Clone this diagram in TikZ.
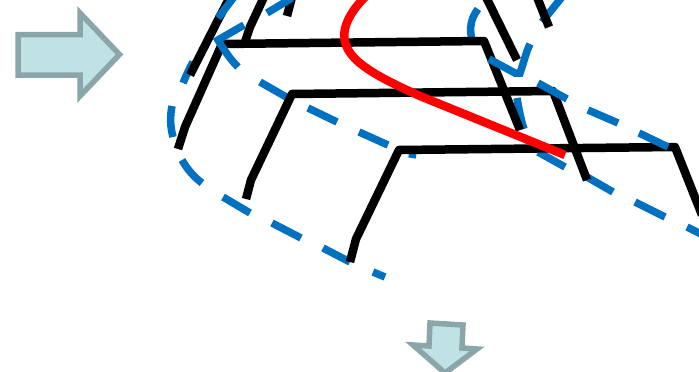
\documentclass[tikz,border=0pt]{standalone}
\definecolor{arrowfill}{HTML}{BFE3E5}
\definecolor{arrowline}{HTML}{8AA6A9}
\definecolor{loopblue}{HTML}{0070C0}
\tikzset{
  bigarrow/.style={draw=arrowline, fill=arrowfill, line width=5.5pt, miter limit=10},
  wire/.style={draw=black, line width=8.5pt, line join=round},
  loopdash/.style={draw=loopblue, line width=7.5pt},
  redwire/.style={draw=red, line width=8.5pt}
}
\begin{document}
\begin{tikzpicture}[x=1pt, y=-1pt]
    \useasboundingbox (0,0) rectangle (699,372);
    \clip (0,0) rectangle (699,372);

    % arrows
    \draw[bigarrow] (18,34.5) -- (80,34.5) -- (80,13) -- (119.5,54.5) -- (80,96) -- (80,75) -- (18,75) -- cycle;
    \draw[bigarrow] (430,323) -- (463,325) -- (462,348) -- (477,349) -- (445,373) -- (413,345) -- (429,346) -- cycle;

    % dashes under the wires
    \foreach \xa/\ya/\xb/\yb in {260/82/288/98, 308/108/337/122, 359/132/388/145, 223/197/250/213, 272/223/301/238,
                       323/248/350/262, 373/272/385/277, 413/152/412/158, 538/152/565/167, 587/177/613/192,
                       635/202/665/217, 687/227/703/235, 542/22/562/-3}
        \draw[loopdash] (\xa,\ya) -- (\xb,\yb);
    \draw[loopdash] (517,98) .. controls (519,110) and (521,120) .. (524,129);
    \draw[loopdash] (183,83) .. controls (186,76) and (189,69) .. (193,62);
    \draw[loopdash] (173,137) .. controls (170,126) and (170,116) .. (172,106);
    \draw[loopdash] (182,160) .. controls (187,169) and (194,177) .. (202,183);
    \draw[loopdash] (478,9) .. controls (471,18) and (469,28) .. (472,40);

    % wires
    \draw[wire] (190,75) -- (218,20) -- (230,-3);
    \draw[wire] (178,149) -- (185,127) -- (222,44) -- (484,41) -- (520,130);
    \draw[wire] (245,42) -- (250,27) -- (264,-3);
    \draw[wire] (287,16) -- (292,-3);
    \draw[wire] (246,199) -- (251,180) -- (292,94) -- (553,91) -- (587,180);
    \draw[wire] (350,262) -- (356,239) -- (399,150) -- (675,147) -- (702,215);
    \draw[wire] (486,-3) -- (517,60);
    \draw[wire] (537,-3) -- (549,27);

    % dashes over the wires
    \foreach \xa/\ya/\xb/\yb in {218/18/234/-3, 267/13/292/-2, 538/83/567/99, 588/110/618/123, 639/133/668/147}
        \draw[loopdash] (\xa,\ya) -- (\xb,\yb);
    \draw[loopdash] (244,25) -- (218,40) .. controls (224,50) and (230,59) .. (238,67);
    \draw[loopdash] (489,59) -- (515,73) -- (520,73) .. controls (524,62) and (526,52) .. (530,44);

    % red curve
    \draw[redwire] (365,-3) .. controls (350,12) and (340,30) .. (346,45)
        .. controls (352,62) and (375,76) .. (420,96) -- (565,155);
\end{tikzpicture}
\end{document}
